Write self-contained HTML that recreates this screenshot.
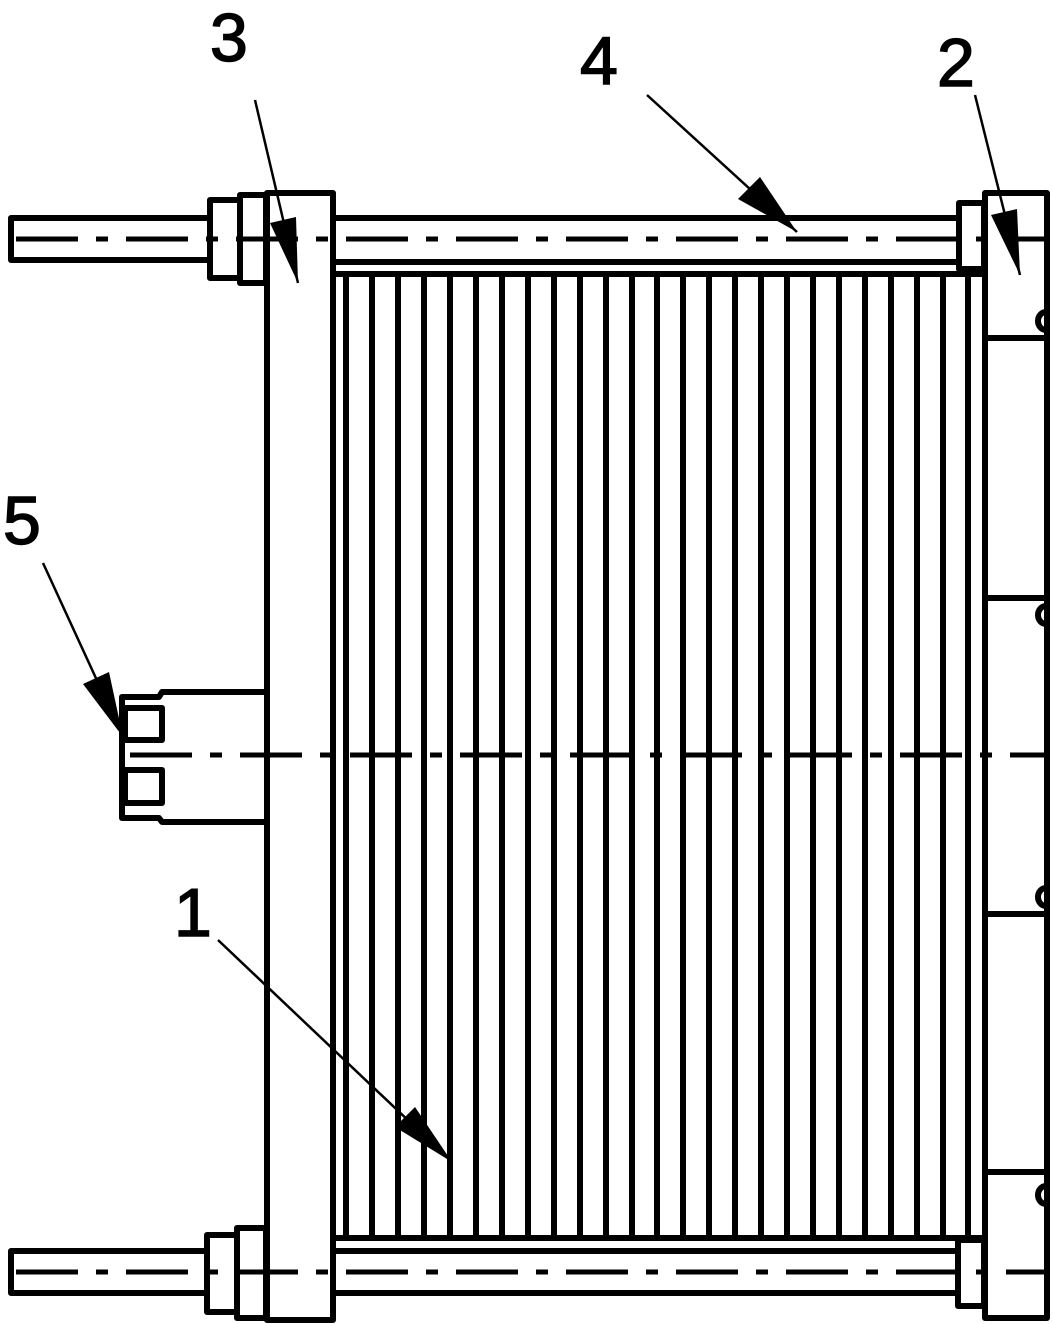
<!DOCTYPE html>
<html><head><meta charset="utf-8"><style>
html,body{margin:0;padding:0;background:#fff;}
svg{display:block;}
text{font-family:"Liberation Sans",sans-serif;font-size:68px;fill:#000;stroke:#000;stroke-width:1.5;}
</style></head><body>
<svg width="1053" height="1324" viewBox="0 0 1053 1324" xmlns="http://www.w3.org/2000/svg">
<g fill="none" stroke="#000" stroke-width="6" stroke-linejoin="round">
<rect x="11" y="218" width="199" height="42"/>
<line x1="333" y1="218" x2="960" y2="218"/>
<line x1="333" y1="262" x2="960" y2="262"/>
<line x1="333" y1="274" x2="985" y2="274"/>
<rect x="210" y="200" width="30" height="78"/>
<rect x="240" y="195" width="26" height="88"/>
<rect x="959" y="203" width="25" height="66"/>
<rect x="11" y="1251" width="196" height="42"/>
<line x1="333" y1="1251" x2="958" y2="1251"/>
<line x1="333" y1="1293" x2="958" y2="1293"/>
<line x1="333" y1="1238" x2="985" y2="1238"/>
<rect x="207" y="1235" width="30" height="77"/>
<rect x="237" y="1228" width="29" height="90"/>
<rect x="958" y="1240" width="26" height="66"/>
<rect x="267" y="193" width="66" height="1127"/>
<rect x="985" y="193" width="62" height="1125"/>
<line x1="985" y1="338" x2="1047" y2="338"/>
<line x1="985" y1="598" x2="1047" y2="598"/>
<line x1="985" y1="914" x2="1047" y2="914"/>
<line x1="985" y1="1172" x2="1047" y2="1172"/>
<path d="M1046 312 a8 9 0 1 0 0 18"/>
<path d="M1046 606 a8 9 0 1 0 0 18"/>
<path d="M1046 888 a8 9 0 1 0 0 18"/>
<path d="M1046 1186 a8 9 0 1 0 0 18"/>
<path d="M265 692 H162 L159 697 H122 V818 H159 L162 822 H265"/>
<rect x="125" y="708" width="37" height="32"/>
<rect x="125" y="770" width="37" height="33"/>
</g>
<g stroke="#000" stroke-width="6">
<line x1="346" y1="274" x2="346" y2="1238"/><line x1="372" y1="274" x2="372" y2="1238"/>
<line x1="398" y1="274" x2="398" y2="1238"/><line x1="424" y1="274" x2="424" y2="1238"/>
<line x1="450" y1="274" x2="450" y2="1238"/><line x1="476" y1="274" x2="476" y2="1238"/>
<line x1="502" y1="274" x2="502" y2="1238"/><line x1="528" y1="274" x2="528" y2="1238"/>
<line x1="554" y1="274" x2="554" y2="1238"/><line x1="580" y1="274" x2="580" y2="1238"/>
<line x1="606" y1="274" x2="606" y2="1238"/><line x1="632" y1="274" x2="632" y2="1238"/>
<line x1="657" y1="274" x2="657" y2="1238"/><line x1="683" y1="274" x2="683" y2="1238"/>
<line x1="709" y1="274" x2="709" y2="1238"/><line x1="735" y1="274" x2="735" y2="1238"/>
<line x1="761" y1="274" x2="761" y2="1238"/><line x1="787" y1="274" x2="787" y2="1238"/>
<line x1="813" y1="274" x2="813" y2="1238"/><line x1="839" y1="274" x2="839" y2="1238"/>
<line x1="865" y1="274" x2="865" y2="1238"/><line x1="891" y1="274" x2="891" y2="1238"/>
<line x1="917" y1="274" x2="917" y2="1238"/><line x1="943" y1="274" x2="943" y2="1238"/>
<line x1="968" y1="274" x2="968" y2="1238"/>
</g>
<g stroke="#000" stroke-width="5" stroke-dasharray="62 18 12 18">
<line x1="16" y1="239" x2="1047" y2="239"/>
<line x1="16" y1="1272" x2="1047" y2="1272"/>
<line x1="130" y1="755" x2="1047" y2="755"/>
</g>
<g stroke="#000" stroke-width="2.5">
<line x1="218" y1="940" x2="452" y2="1162"/>
<line x1="647" y1="95" x2="797" y2="232"/>
<line x1="43" y1="563" x2="123" y2="737"/>
<line x1="255" y1="100" x2="298" y2="283"/>
<line x1="975" y1="95" x2="1020" y2="275"/>
</g>
<g fill="#000">
<polygon points="395,1127 415,1107 452,1162"/>
<polygon points="738,199 760,177 797,232"/>
<polygon points="83,684 109,672 123,737"/>
<polygon points="270,223 296,217 298,283"/>
<polygon points="991,215 1017,209 1020,275"/>
</g>
<text x="210" y="61">3</text>
<text x="580" y="84">4</text>
<text x="937" y="86">2</text>
<text x="3" y="544">5</text>
<text x="174" y="936">1</text>
</svg>
</body></html>
